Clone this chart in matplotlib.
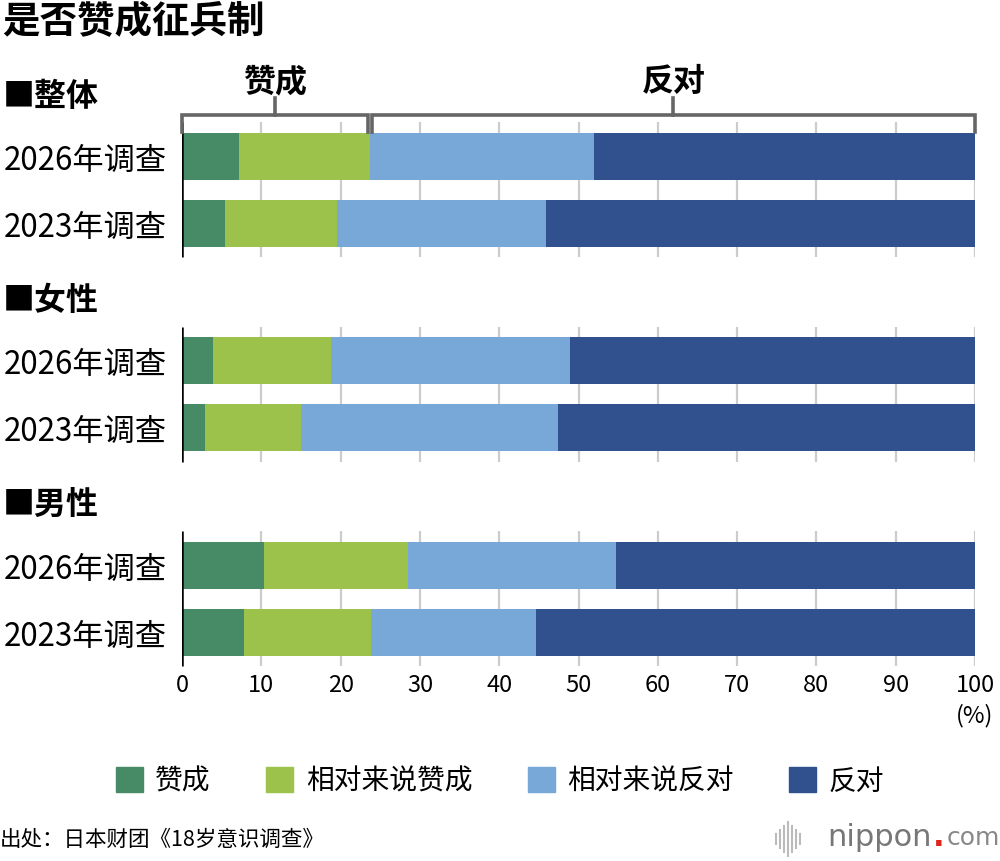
import matplotlib.pyplot as plt
from matplotlib.patches import Patch
from matplotlib.lines import Line2D
from matplotlib.transforms import blended_transform_factory

plt.rcParams['font.family'] = ['Noto Sans CJK SC', 'DejaVu Sans']

# data
groups = ["整体", "女性", "男性"]
years = ["2026年调查", "2023年调查"]
series = ["赞成", "相对来说赞成", "相对来说反对", "反对"]
colors = ["#468A66", "#9DC24B", "#78A8D8", "#30508E"]

# rows: 整体 2026, 整体 2023, 女性 2026, 女性 2023, 男性 2026, 男性 2023
agree = [7.2, 5.4, 3.9, 2.9, 10.3, 7.8]
rather_agree = [16.5, 14.1, 14.9, 12.1, 18.2, 16.0]
rather_oppose = [28.3, 26.4, 30.1, 32.4, 26.2, 20.8]
oppose = [48.0, 54.1, 51.1, 52.6, 45.3, 55.4]
values = [agree, rather_agree, rather_oppose, oppose]

W, H = 1000, 862
fig = plt.figure(figsize=(W / 100, H / 100), dpi=100)
# y axis in pixel-like units from the top of the figure
y_top, y_bot = 100, 670
ax = fig.add_axes([182 / W, 1 - y_bot / H, 793 / W, (y_bot - y_top) / H])
ax.set_xlim(0, 100)
ax.set_ylim(y_bot, y_top)

first, group_gap, row_gap, bar_h = 157, 204.5, 67, 47
ypos = [first + g * group_gap + r * row_gap for g in range(len(groups)) for r in range(len(years))]

# grid segments per group
ticks = list(range(0, 101, 10))
for g in range(len(groups)):
    t = ypos[2 * g] - 34
    b = ypos[2 * g + 1] + 34
    ax.vlines(ticks[1:], t, b, color="#cccccc", lw=1.6, zorder=0)
    ax.vlines(0, t, b, color="black", lw=1.8, zorder=3)

left = [0] * len(ypos)
for vals, col, name in zip(values, colors, series):
    ax.barh(ypos, vals, left=left, height=bar_h, color=col, label=name, zorder=2)
    left = [l + v for l, v in zip(left, vals)]

ax.set_yticks(ypos)
ax.set_yticklabels(years * len(groups), fontsize=22.5)
ax.set_xticks(ticks)
ax.set_xticklabels([str(t) for t in ticks], fontsize=17)
ax.tick_params(length=0, axis="y", pad=11)
ax.tick_params(length=0, axis="x", pad=3)
for s in ax.spines.values():
    s.set_visible(False)
ax.text(100, 716, "(%)", ha="center", va="center", fontsize=17)

# section headers
tr = blended_transform_factory(fig.transFigure, ax.transData)
for g, name in enumerate(groups):
    ax.text(0.003, ypos[2 * g] - 60, "■" + name, transform=tr, fontsize=23,
            fontweight="bold", va="center", ha="left")

# bracket above overall 2026
split = agree[0] + rather_agree[0]
by, bdrop = 116, 133
for x0, x1, lab in [(0, split - 0.25, "赞成"), (split + 0.25, 100, "反对")]:
    ax.plot([x0, x0, x1, x1], [bdrop, by, by, bdrop], color="#666666", lw=2.6,
            clip_on=False, solid_joinstyle="miter", zorder=4)
    xm = (x0 + x1) / 2
    ax.plot([xm, xm], [by, 99], color="#666666", lw=2.6, clip_on=False, zorder=4)
    ax.text(xm, 82, lab, ha="center", va="center", fontsize=23, fontweight="bold")

# title
fig.text(0.002, 1 - 22 / H, "是否赞成征兵制", fontsize=27, fontweight="bold", va="center", ha="left")

# legend
handles = [Patch(color=c, label=s) for c, s in zip(colors, series)]
fig.legend(handles=handles, ncol=4, loc="center", bbox_to_anchor=(0.5, 1 - 782 / H),
           frameon=False, fontsize=20, handlelength=0.97, handleheight=0.97,
           handletextpad=0.45, columnspacing=2.0)

# source and logo
fig.text(0.0, 1 - 840 / H, "出处：日本财团《18岁意识调查》", fontsize=15.5, va="center", ha="left")
bars_h = [10, 18, 26, 34, 26, 18, 10]
for i, h in enumerate(bars_h):
    x = (776 + i * 4) / W
    fig.add_artist(Line2D([x, x], [1 - (840 - h / 2) / H, 1 - (840 + h / 2) / H],
                          color="#bbbbbb", lw=1.5))
fig.text(0.932, 1 - 838 / H, "nippon", fontsize=22, color="#777777", va="center", ha="right",
         family="DejaVu Sans")
fig.text(0.939, 1 - 838 / H, ".", fontsize=22, color="#e0241b", va="center", ha="center",
         family="DejaVu Sans", fontweight="bold")
fig.text(0.947, 1 - 838 / H, "com", fontsize=18, color="#888888", va="center", ha="left",
         family="DejaVu Sans")

fig.savefig("out.png", dpi=100)
